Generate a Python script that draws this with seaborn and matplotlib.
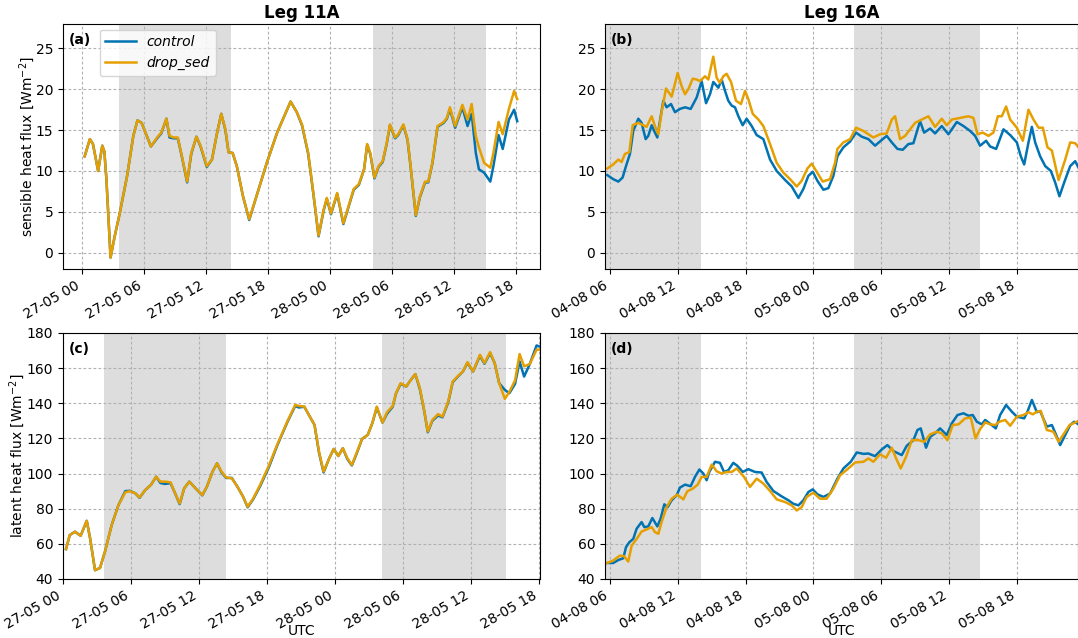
import pandas as pd
import seaborn as sns
import matplotlib.pyplot as plt
import matplotlib.dates as mdates

# ---- Leg 11A, hours after 27-05 00 UTC ----
hours_11a_shf = [0.3, 0.8, 1.1, 1.6, 2.0, 2.2, 2.4, 2.8, 3.2, 3.7, 4.4, 5.0, 5.4, 5.8, 6.3, 6.7, 7.3, 7.7, 8.2, 8.5,
                 8.9, 9.3, 9.7, 10.2, 10.6, 11.1, 11.5, 12.1, 12.6, 13.1, 13.5, 13.9, 14.2, 14.6, 15.0, 15.6, 16.2, 16.9, 17.9, 18.9,
                 20.2, 20.8, 21.3, 21.9, 22.4, 22.9, 23.4, 23.7, 24.1, 24.7, 25.3, 25.8, 26.3, 26.8, 27.3, 27.6, 27.9, 28.3, 28.7, 29.1,
                 29.5, 29.8, 30.3, 30.6, 31.1, 31.5, 31.8, 32.3, 32.7, 33.2, 33.5, 33.9, 34.4, 35.0, 35.3, 35.6, 36.1, 36.8, 37.3, 37.7,
                 38.1, 38.4, 38.9, 39.5, 39.8, 40.3, 40.7, 41.3, 41.8, 42.1]
shf_drop_11a = [11.8, 13.9, 13.3, 10.0, 13.1, 12.4, 9.0, -0.6, 2.0, 4.9, 9.4, 14.3, 16.2, 15.9, 14.3, 13.0, 14.1, 14.7, 16.4, 14.3,
                14.1, 14.1, 11.8, 8.7, 12.2, 14.2, 13.1, 10.6, 11.4, 14.7, 17.0, 15.1, 12.3, 12.2, 10.6, 6.9, 4.1, 6.9, 11.0, 14.7,
                18.5, 17.2, 15.7, 12.2, 7.3, 2.1, 5.3, 6.7, 4.8, 7.3, 3.6, 5.7, 7.8, 8.4, 10.2, 13.3, 12.2, 9.2, 10.6, 11.2,
                13.5, 15.7, 14.1, 14.5, 15.7, 13.9, 10.6, 4.6, 6.9, 8.7, 8.7, 11.0, 15.5, 16.0, 16.5, 17.8, 15.5, 18.1, 16.3, 18.2,
                14.3, 12.9, 11.0, 10.4, 12.2, 16.0, 14.5, 17.6, 19.8, 18.8]
shf_control_11a = [11.8, 13.9, 13.3, 10.0, 13.1, 12.4, 9.0, -0.6, 2.0, 4.9, 9.4, 14.3, 16.2, 15.9, 14.3, 13.0, 14.0, 14.6, 16.4, 14.1,
                   14.0, 14.0, 11.7, 8.6, 12.1, 14.2, 13.0, 10.5, 11.4, 14.7, 17.0, 15.0, 12.3, 12.2, 10.6, 6.9, 4.0, 6.9, 11.0, 14.7,
                   18.5, 17.2, 15.6, 12.1, 7.2, 2.0, 5.2, 6.6, 4.7, 7.2, 3.5, 5.6, 7.7, 8.3, 10.2, 13.2, 12.1, 9.1, 10.5, 11.1,
                   13.4, 15.6, 14.0, 14.4, 15.6, 13.8, 10.5, 4.5, 6.8, 8.6, 8.6, 10.9, 15.4, 15.9, 16.4, 17.6, 15.3, 17.8, 15.5, 17.0,
                   12.2, 10.2, 9.8, 8.7, 10.6, 14.4, 12.7, 16.3, 17.5, 16.1]

hours_11a_lhf = [0.27, 0.6, 1.06, 1.56, 2.1, 2.4, 2.83, 3.27, 3.7, 4.3, 4.9, 5.5, 5.9, 6.4, 6.76, 7.26, 7.76, 8.23, 8.6, 9.0,
                 9.5, 9.9, 10.3, 10.7, 11.15, 11.7, 12.3, 12.7, 13.2, 13.6, 14.0, 14.4, 14.9, 15.4, 15.9, 16.3, 16.8, 17.4, 18.2, 18.9,
                 19.8, 20.5, 20.8, 21.3, 21.7, 22.2, 22.6, 23.0, 23.5, 23.9, 24.3, 24.7, 25.1, 25.5, 25.9, 26.4, 26.9, 27.3, 27.7, 28.2,
                 28.6, 29.1, 29.4, 29.8, 30.3, 30.6, 31.1, 31.5, 31.9, 32.2, 32.6, 33.1, 33.5, 34.0, 34.4, 34.9, 35.3, 35.7, 36.2, 36.8,
                 37.2, 37.7, 38.1, 38.5, 39.0, 39.4, 39.9, 40.3, 40.7, 41.2, 41.8, 42.0]
lhf_drop_11a = [57.0, 65.0, 66.9, 64.6, 73.1, 63.0, 45.0, 46.3, 55.4, 70.7, 82.1, 89.3, 90.0, 88.7, 86.4, 90.6, 93.5, 98.2, 95.4, 95.4,
                95.0, 88.7, 83.0, 91.6, 95.4, 91.6, 87.8, 92.5, 101.1, 105.8, 101.1, 97.8, 97.3, 92.5, 86.8, 81.1, 85.9, 93.5, 104.9, 116.3,
                129.6, 139.1, 138.5, 138.1, 133.4, 127.7, 112.5, 101.1, 108.7, 114.0, 110.0, 114.4, 108.7, 104.9, 111.5, 119.7, 122.0, 128.6, 138.1, 129.0,
                134.9, 138.5, 145.7, 151.4, 149.5, 152.4, 156.6, 148.6, 135.3, 123.9, 130.5, 133.8, 132.4, 141.0, 152.4, 155.8, 158.1, 163.4, 158.1, 167.6,
                162.9, 169.1, 162.9, 151.4, 142.5, 146.5, 153.0, 168.0, 161.0, 162.3, 170.5, 170.5]
lhf_control_11a = [57.0, 65.0, 66.9, 64.6, 73.1, 63.0, 45.0, 46.3, 55.4, 70.7, 82.1, 90.0, 90.2, 88.7, 86.2, 90.6, 93.5, 98.2, 94.6, 94.1,
                   94.5, 88.7, 82.6, 91.6, 95.4, 91.6, 87.6, 92.5, 101.1, 105.8, 100.6, 97.5, 97.5, 92.5, 86.8, 80.8, 85.5, 92.8, 104.0, 115.8,
                   129.2, 138.5, 137.6, 138.0, 133.4, 127.7, 111.8, 100.6, 108.7, 114.0, 110.0, 114.4, 108.2, 104.6, 111.0, 119.7, 122.0, 128.6, 137.6, 129.0,
                   134.0, 138.0, 145.7, 151.0, 149.5, 152.4, 156.6, 148.0, 135.0, 123.5, 130.0, 133.0, 132.0, 140.5, 152.0, 155.5, 158.1, 163.0, 158.1, 167.0,
                   162.5, 168.5, 162.9, 151.4, 147.6, 145.7, 151.0, 163.8, 155.2, 162.3, 172.9, 172.4]

# ---- Leg 16A, hours after 04-08 06 UTC ----
hours_16a_shf_control = [-0.24, 0.29, 0.74, 1.12, 1.42, 1.77, 2.06, 2.51, 2.80, 3.16, 3.39, 3.69, 3.98, 4.19, 4.42, 4.72, 5.01, 5.40, 5.75, 6.19,
                         6.64, 7.14, 7.67, 8.11, 8.50, 8.85, 9.14, 9.59, 9.88, 10.18, 10.47, 10.77, 11.06, 11.36, 11.74, 12.09, 12.54, 12.98, 13.57, 14.16,
                         14.75, 15.49, 16.08, 16.67, 17.11, 17.55, 17.94, 18.35, 18.88, 19.32, 19.76, 20.12, 20.65, 21.24, 21.77, 22.27, 22.86, 23.45, 24.04, 24.48,
                         24.93, 25.43, 25.90, 26.40, 26.84, 27.43, 27.79, 28.32, 28.76, 29.35, 29.94, 30.68, 31.27, 31.86, 32.30, 32.74, 33.27, 33.63, 34.16, 34.81,
                         35.40, 35.99, 36.34, 36.64, 37.02, 37.32, 37.61, 38.05, 38.50, 39.00, 39.38, 39.76, 40.18, 40.71, 41.15, 41.45]
shf_control_16a = [9.5, 9.0, 8.7, 9.2, 10.6, 12.1, 14.9, 16.4, 15.9, 13.9, 14.3, 15.6, 14.7, 14.1, 16.1, 18.6, 17.8, 18.2, 17.2, 17.6,
                   17.8, 17.6, 19.0, 21.0, 18.3, 19.4, 20.9, 20.2, 21.2, 19.8, 18.6, 18.0, 17.8, 16.7, 15.6, 16.4, 15.5, 14.4, 13.9, 11.4,
                   10.0, 8.9, 8.1, 6.7, 7.8, 9.4, 9.9, 8.8, 7.7, 7.9, 9.4, 11.8, 12.9, 13.6, 14.7, 14.2, 13.9, 13.1, 13.8, 14.3,
                   13.5, 12.7, 12.6, 13.3, 13.4, 16.1, 14.7, 15.2, 14.6, 15.5, 14.5, 16.0, 15.5, 14.9, 14.3, 13.1, 13.7, 13.0, 12.7, 15.1,
                   14.4, 13.5, 11.8, 10.8, 13.5, 15.4, 13.5, 11.8, 10.6, 10.0, 8.6, 6.9, 8.6, 10.6, 11.2, 10.4]
hours_16a_shf_drop = [-0.24, 0.29, 0.74, 1.03, 1.33, 1.71, 2.01, 2.51, 2.95, 3.24, 3.69, 3.98, 4.28, 4.57, 4.96, 5.46, 5.99, 6.34, 6.64, 6.93,
                      7.32, 7.67, 7.96, 8.41, 8.70, 9.14, 9.44, 9.73, 10.03, 10.32, 10.71, 11.15, 11.59, 11.95, 12.24, 12.63, 13.13, 13.57, 14.16, 14.75,
                      15.34, 15.93, 16.52, 16.96, 17.46, 17.85, 18.29, 18.82, 19.47, 19.91, 20.12, 20.65, 21.24, 21.77, 22.42, 22.86, 23.30, 23.89, 24.48, 24.93,
                      25.22, 25.66, 26.11, 26.55, 26.99, 27.58, 28.17, 28.76, 29.35, 29.79, 30.24, 30.97, 31.71, 32.15, 32.51, 32.98, 33.48, 33.92, 34.31, 34.66,
                      35.04, 35.40, 35.99, 36.52, 37.02, 37.46, 37.91, 38.29, 38.70, 39.09, 39.68, 40.27, 40.71, 41.15, 41.45]
shf_drop_16a = [10.3, 10.8, 11.4, 11.1, 12.1, 12.3, 15.6, 15.9, 15.6, 15.4, 16.7, 15.5, 14.5, 17.2, 20.1, 19.1, 22.0, 20.4, 19.4, 20.0,
                21.3, 21.2, 21.0, 21.6, 21.2, 24.0, 21.4, 20.8, 21.6, 21.9, 20.9, 18.6, 18.2, 19.8, 18.8, 17.0, 16.3, 15.5, 13.3, 11.0,
                9.8, 9.0, 8.1, 8.8, 10.3, 10.9, 9.9, 8.7, 9.0, 11.0, 12.7, 13.5, 13.9, 15.3, 14.9, 14.5, 14.1, 14.5, 14.6, 16.3,
                16.7, 13.9, 14.3, 15.1, 15.9, 16.3, 16.7, 15.4, 16.4, 15.6, 16.3, 16.5, 16.7, 16.5, 14.5, 14.7, 14.3, 14.7, 16.7, 16.7,
                17.9, 16.3, 15.3, 13.7, 17.5, 16.3, 15.3, 15.3, 12.9, 12.5, 8.9, 11.4, 13.5, 13.4, 12.9]

hours_16a_lhf_control = [-0.24, 0.29, 0.74, 1.18, 1.42, 1.71, 2.06, 2.36, 2.80, 3.04, 3.39, 3.75, 4.19, 4.48, 4.81, 5.10, 5.46, 5.90, 6.19, 6.64,
                         7.14, 7.52, 7.91, 8.26, 8.55, 8.79, 9.29, 9.73, 10.09, 10.47, 10.91, 11.27, 11.74, 12.24, 12.83, 13.42, 13.86, 14.45, 15.19, 15.78,
                         16.22, 16.67, 17.11, 17.55, 17.94, 18.35, 18.88, 19.47, 20.12, 20.65, 21.30, 21.83, 22.42, 22.86, 23.45, 24.04, 24.54, 25.07, 25.81, 26.25,
                         26.84, 27.20, 27.49, 27.96, 28.32, 28.76, 29.20, 29.79, 30.24, 30.74, 31.27, 31.71, 32.09, 32.45, 32.89, 33.19, 33.69, 34.13, 34.51, 35.04,
                         35.55, 35.99, 36.64, 36.93, 37.32, 37.76, 38.05, 38.64, 39.09, 39.47, 39.82, 40.27, 40.71, 41.06, 41.45]
lhf_control_16a = [49.1, 49.1, 50.8, 51.8, 58.1, 60.9, 62.8, 68.6, 72.4, 69.5, 69.9, 74.7, 69.9, 74.3, 82.5, 80.9, 84.8, 87.6, 92.0, 93.7,
                   92.8, 98.1, 102.3, 100.0, 96.2, 100.9, 106.7, 106.1, 100.9, 101.9, 106.1, 104.4, 100.9, 102.5, 100.9, 100.6, 95.2, 90.1, 87.0, 84.8,
                   82.8, 81.9, 84.8, 89.5, 91.0, 88.2, 86.7, 88.6, 97.1, 102.9, 106.7, 112.0, 111.2, 111.4, 109.9, 113.7, 116.2, 112.8, 110.5, 115.8,
                   119.0, 124.8, 125.7, 114.7, 120.9, 122.9, 125.7, 121.9, 128.6, 133.3, 134.3, 132.9, 133.3, 129.5, 128.0, 130.5, 128.0, 125.7, 133.3, 139.0,
                   135.2, 132.4, 131.4, 135.2, 141.9, 134.9, 135.6, 126.7, 127.6, 121.9, 116.2, 121.9, 127.6, 129.5, 128.0]
hours_16a_lhf_drop = [-0.24, 0.29, 0.88, 1.24, 1.62, 1.92, 2.36, 2.80, 3.24, 3.69, 3.98, 4.28, 4.57, 5.01, 5.46, 5.96, 6.49, 6.84, 7.32, 7.76,
                      8.11, 8.55, 9.00, 9.44, 9.88, 10.32, 10.77, 11.21, 11.86, 12.39, 12.98, 13.57, 14.16, 14.75, 15.49, 16.08, 16.52, 16.96, 17.40, 17.99,
                      18.58, 19.17, 19.76, 20.35, 21.09, 21.68, 22.42, 22.86, 23.30, 23.89, 24.42, 24.93, 25.31, 25.72, 26.19, 26.70, 27.29, 27.79, 28.32, 28.91,
                      29.35, 29.85, 30.32, 30.83, 31.42, 31.92, 32.33, 32.74, 33.19, 33.63, 34.07, 34.45, 34.96, 35.40, 35.99, 36.58, 37.02, 37.40, 37.76, 38.11,
                      38.64, 39.23, 39.68, 40.18, 40.65, 41.00, 41.45]
lhf_drop_16a = [49.1, 50.5, 53.3, 53.0, 49.9, 59.0, 62.8, 67.0, 68.2, 69.5, 66.7, 65.7, 72.4, 80.9, 85.7, 88.0, 85.3, 89.9, 91.4, 93.7,
                98.1, 98.1, 105.1, 101.3, 100.0, 100.9, 100.9, 102.9, 98.1, 92.4, 97.1, 94.3, 90.1, 85.3, 83.8, 81.9, 79.0, 80.9, 86.7, 89.1,
                85.7, 85.7, 91.4, 99.0, 102.9, 106.3, 106.7, 108.6, 106.7, 110.9, 109.0, 114.7, 108.6, 102.9, 109.5, 119.0, 119.0, 118.1, 122.3, 123.8,
                122.9, 119.0, 127.6, 128.0, 131.4, 131.8, 120.0, 125.3, 129.1, 128.0, 127.6, 129.5, 130.5, 127.2, 132.4, 133.3, 134.9, 133.7, 135.2, 135.6,
                124.8, 123.8, 118.1, 122.9, 127.6, 128.6, 130.0]

start_11a = pd.Timestamp('2022-05-27 00:00')
start_16a = pd.Timestamp('2022-08-04 06:00')
night_11a = [(3.65, 14.4), (28.15, 39.1)]
night_16a = [(-2.0, 8.05), (21.6, 32.7)]

c_ctrl, c_drop = '#0173B2', '#E69F00'


def to_time(start, hours):
    return start + pd.to_timedelta(pd.Series(hours), unit='h')


def draw_panel(ax, start, h_ctrl, ctrl, h_drop, drop, night, xlim, legend=False):
    for a, b in night:
        ax.axvspan(to_time(start, [a])[0], to_time(start, [b])[0], color='#dddddd', lw=0, zorder=0)
    sns.lineplot(x=to_time(start, h_ctrl), y=ctrl, ax=ax, color=c_ctrl, lw=1.8, label='control', legend=False)
    sns.lineplot(x=to_time(start, h_drop), y=drop, ax=ax, color=c_drop, lw=1.8, label='drop_sed', legend=False)
    ax.set_xlim(to_time(start, [xlim[0]])[0], to_time(start, [xlim[1]])[0])
    ax.xaxis.set_major_locator(mdates.HourLocator(byhour=[0, 6, 12, 18]))
    ax.xaxis.set_major_formatter(mdates.DateFormatter('%d-%m %H'))
    ax.grid(True, ls=(0, (2.5, 2)), color='#b0b0b0', lw=0.8)
    ax.set_axisbelow(True)
    ax.tick_params(labelsize=10)
    for lab in ax.get_xticklabels():
        lab.set_rotation(30)
        lab.set_ha('right')
    ax.set_xlabel('')
    ax.set_ylabel('')
    if legend:
        ax.legend(loc='upper left', bbox_to_anchor=(0.065, 1.0), borderaxespad=0.4,
                  handlelength=2.2, prop={'style': 'italic', 'size': 10})


fig = plt.figure(figsize=(10.78, 6.38), dpi=100)
ax_a = fig.add_axes([0.0584, 0.5784, 0.4425, 0.384])
ax_b = fig.add_axes([0.5612, 0.5784, 0.4388, 0.384])
ax_c = fig.add_axes([0.0584, 0.0925, 0.4425, 0.3856])
ax_d = fig.add_axes([0.5612, 0.0925, 0.4388, 0.3856])

draw_panel(ax_a, start_11a, hours_11a_shf, shf_control_11a, hours_11a_shf, shf_drop_11a, night_11a, (-1.8, 44.3), legend=True)
draw_panel(ax_b, start_16a, hours_16a_shf_control, shf_control_16a, hours_16a_shf_drop, shf_drop_16a, night_16a, (-0.44, 41.4))
draw_panel(ax_c, start_11a, hours_11a_lhf, lhf_control_11a, hours_11a_lhf, lhf_drop_11a, night_11a, (0.0, 42.1))
draw_panel(ax_d, start_16a, hours_16a_lhf_control, lhf_control_16a, hours_16a_lhf_drop, lhf_drop_16a, night_16a, (-0.44, 41.4))

for ax in (ax_a, ax_b):
    ax.set_ylim(-2, 28)
    ax.set_yticks([0, 5, 10, 15, 20, 25])
for ax in (ax_c, ax_d):
    ax.set_ylim(40, 180)
    ax.set_yticks(range(40, 181, 20))
    ax.set_xlabel('UTC', fontsize=10)
    ax.xaxis.set_label_coords(0.5, -0.185)

ax_a.set_ylabel('sensible heat flux [Wm$^{-2}$]', fontsize=10)
ax_a.yaxis.set_label_coords(-0.055, 0.5)
ax_c.set_ylabel('latent heat flux [Wm$^{-2}$]', fontsize=10)
ax_c.yaxis.set_label_coords(-0.075, 0.5)
ax_a.set_title('Leg 11A', fontsize=12, fontweight='bold', pad=4)
ax_b.set_title('Leg 16A', fontsize=12, fontweight='bold', pad=4)

for ax, tag in zip((ax_a, ax_b, ax_c, ax_d), ('(a)', '(b)', '(c)', '(d)')):
    ax.text(0.012, 0.965, tag, transform=ax.transAxes, fontsize=10, fontweight='bold', va='top')

fig.savefig('out.png', dpi=100)
